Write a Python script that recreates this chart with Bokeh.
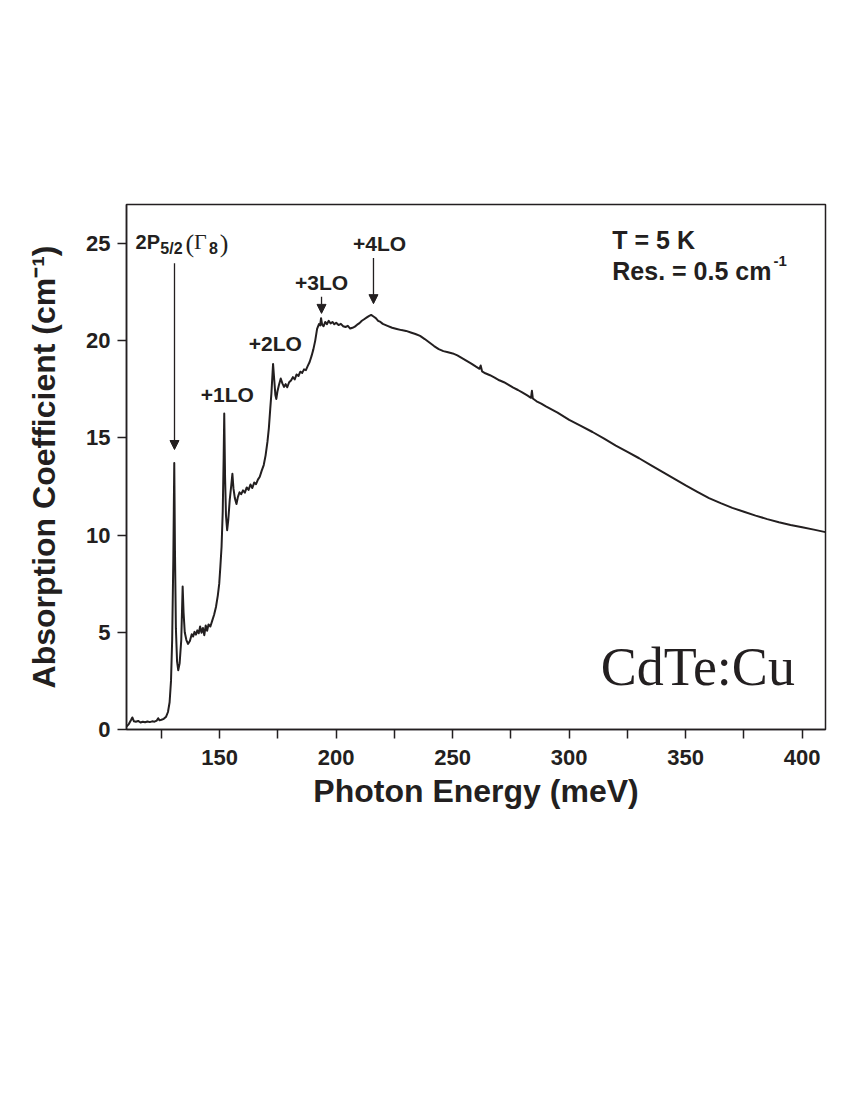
from bokeh.plotting import figure
from bokeh.models import FixedTicker, Arrow, NormalHead, Label, ColumnDataSource
from bokeh.embed import file_html
from bokeh.resources import INLINE

# ---------------- data ----------------
energy_meV = [
    110.0, 111.0, 112.0, 112.5, 113.2, 114.0, 115.0, 116.0, 117.0, 118.0,
    119.0, 120.0, 121.0, 122.0, 123.0, 123.6, 124.2, 125.0, 126.0, 127.0,
    127.8, 128.5, 129.1, 129.6, 130.1, 130.5, 130.8, 131.2, 131.7, 132.2,
    132.8, 133.5, 134.1, 134.5, 135.0, 135.7, 136.4, 137.2, 138.0, 138.6,
    139.2, 139.8, 140.4, 141.0, 141.6, 142.2, 142.8, 143.4, 144.0, 144.6,
    145.2, 146.0, 146.8, 147.6, 148.4, 149.2, 149.8, 150.3, 150.8, 151.3,
    151.7, 151.95, 152.3, 152.7, 153.2, 153.7, 154.3, 155.0, 155.45, 155.9,
    156.5, 157.2, 157.8, 158.5, 159.2, 160.0, 160.8, 161.6, 162.4, 163.2,
    164.0, 164.8, 165.6, 166.4, 167.2, 168.0, 168.9, 169.7, 170.5, 171.1,
    171.7, 172.2, 172.9, 173.4, 173.9, 174.3, 174.8, 175.4, 176.2, 176.9,
    177.6, 178.3, 179.0, 179.8, 180.6, 181.4, 182.2, 183.0, 183.8, 184.6,
    185.4, 186.2, 187.0, 187.8, 188.6, 189.4, 190.2, 191.0, 191.8, 192.6,
    193.1, 193.5, 194.0, 194.6, 195.3, 196.0, 196.8, 197.6, 198.4, 199.2,
    200.0, 201.0, 202.0, 203.0, 204.0, 205.0, 206.0, 207.0, 208.0, 209.0,
    210.0, 211.0, 212.0, 213.0, 214.0, 215.0, 216.0, 217.0, 218.0, 219.0,
    220.0, 222.0, 224.0, 226.0, 228.0, 230.0, 232.0, 234.0, 236.0, 238.0,
    240.0, 242.0, 244.0, 246.0, 248.0, 250.0, 252.0, 254.0, 256.0, 258.0,
    260.0, 261.5, 262.0, 262.6, 264.0, 266.0, 268.0, 270.0, 272.0, 274.0,
    276.0, 278.0, 280.0, 282.0, 283.6, 284.0, 284.4, 286.0, 288.0, 290.0,
    295.0, 300.0, 305.0, 310.0, 315.0, 320.0, 325.0, 330.0, 335.0, 340.0,
    345.0, 350.0, 355.0, 360.0, 365.0, 370.0, 375.0, 380.0, 385.0, 390.0,
    395.0, 400.0, 405.0, 410.0,
]
absorption_cm = [
    0.15, 0.28, 0.50, 0.62, 0.42, 0.40, 0.44, 0.36, 0.40, 0.37,
    0.41, 0.38, 0.42, 0.40, 0.46, 0.58, 0.47, 0.50, 0.55, 0.66,
    0.90, 1.40, 2.50, 4.60, 8.80, 13.70, 9.20, 5.20, 3.50, 3.05,
    3.40, 4.60, 7.35, 6.00, 5.00, 4.60, 4.40, 4.55, 4.90, 4.78,
    5.02, 4.88, 5.10, 4.95, 5.30, 4.98, 5.22, 4.85, 5.35, 5.08,
    5.40, 5.30, 5.60, 5.90, 6.30, 6.90, 7.50, 8.40, 9.40, 11.20,
    14.00, 16.25, 13.00, 11.00, 10.25, 10.80, 11.80, 12.60, 13.15, 12.40,
    11.90, 11.60, 11.95, 12.20, 12.10, 12.30, 12.18, 12.45, 12.32, 12.60,
    12.42, 12.70, 12.62, 12.85, 13.00, 13.30, 13.60, 14.10, 14.80, 15.50,
    16.50, 17.30, 18.80, 18.00, 17.20, 17.00, 17.40, 17.70, 18.05, 17.80,
    17.62, 17.76, 17.60, 17.86, 17.95, 18.12, 18.00, 18.26, 18.18, 18.40,
    18.34, 18.52, 18.48, 18.70, 18.90, 19.20, 19.55, 20.00, 20.60, 20.85,
    20.78, 21.15, 20.80, 20.74, 20.96, 20.84, 21.02, 20.88, 20.96, 20.84,
    20.92, 20.80, 20.86, 20.74, 20.70, 20.76, 20.62, 20.66, 20.72, 20.82,
    20.90, 21.02, 21.10, 21.18, 21.26, 21.32, 21.24, 21.16, 21.02, 20.96,
    20.86, 20.76, 20.66, 20.60, 20.54, 20.50, 20.42, 20.34, 20.24, 20.08,
    19.90, 19.72, 19.56, 19.46, 19.40, 19.34, 19.24, 19.10, 18.96, 18.82,
    18.66, 18.55, 18.72, 18.42, 18.32, 18.22, 18.10, 17.96, 17.86, 17.72,
    17.58, 17.46, 17.32, 17.18, 17.06, 17.42, 17.02, 16.88, 16.76, 16.62,
    16.30, 15.92, 15.62, 15.30, 14.96, 14.60, 14.28, 13.95, 13.60, 13.25,
    12.90, 12.55, 12.22, 11.90, 11.64, 11.40, 11.20, 11.00, 10.82, 10.66,
    10.52, 10.40, 10.28, 10.15,
]

x_major_ticks = [150, 200, 250, 300, 350, 400]
x_minor_ticks = [125, 175, 225, 275, 325, 375]
y_ticks = [0, 5, 10, 15, 20, 25]

# phonon replica labels: text, centre energy, baseline absorption
lo_labels = ["+1LO", "+2LO", "+3LO", "+4LO"]
lo_label_x = [153.3, 173.9, 193.7, 218.6]
lo_label_y = [17.24, 19.86, 23.01, 25.01]

# arrows: energy, start, end
arrow_x = [130.6, 193.7, 216.0]
arrow_y_start = [23.98, 22.25, 24.25]
arrow_y_end = [14.4, 21.4, 21.9]

INK = "#231f20"
SANS = "Liberation Sans"
SERIF = "Liberation Serif"

p = figure(
    frame_width=699, frame_height=525,
    x_range=(110, 410), y_range=(0, 27),
    output_backend="svg", toolbar_location=None,
    min_border_left=126, min_border_top=204,
    min_border_right=8, min_border_bottom=95,
    background_fill_color="white", border_fill_color="white",
)
p.xgrid.visible = False
p.ygrid.visible = False
p.outline_line_color = INK
p.outline_line_width = 1.5

src = ColumnDataSource(dict(e=energy_meV, a=absorption_cm))
p.line("e", "a", source=src, line_color=INK, line_width=2, line_join="round")

# axes
p.xaxis.ticker = FixedTicker(ticks=x_major_ticks, minor_ticks=x_minor_ticks)
p.yaxis.ticker = FixedTicker(ticks=y_ticks, minor_ticks=[])
for ax in (p.xaxis[0], p.yaxis[0]):
    ax.axis_line_color = INK
    ax.axis_line_width = 1.5
    ax.major_tick_line_color = INK
    ax.major_tick_line_width = 1.5
    ax.major_tick_out = 9
    ax.major_tick_in = 0
    ax.minor_tick_line_color = INK
    ax.minor_tick_line_width = 1.5
    ax.minor_tick_out = 9
    ax.minor_tick_in = 0
    ax.major_label_text_font = SANS
    ax.major_label_text_font_style = "bold"
    ax.major_label_text_font_size = "22px"
    ax.major_label_text_color = INK
    ax.axis_label_text_font = SANS
    ax.axis_label_text_font_style = "bold"
    ax.axis_label_text_font_size = "32px"
    ax.axis_label_text_color = INK
p.yaxis.minor_tick_line_color = None
p.xaxis.major_label_standoff = 11
p.yaxis.major_label_standoff = 7
p.xaxis.axis_label = "Photon Energy (meV)"
p.yaxis.axis_label = "Absorption Coefficient (cm\u207b\u00b9)"
p.xaxis.axis_label_standoff = 5
p.yaxis.axis_label_standoff = 21

# arrows
for xa, ys, ye in zip(arrow_x, arrow_y_start, arrow_y_end):
    p.add_layout(Arrow(
        end=NormalHead(size=9, fill_color=INK, line_color=INK, line_width=1),
        x_start=xa, y_start=ys, x_end=xa, y_end=ye,
        line_color=INK, line_width=1.3,
    ))

# LO labels
for t, xl, yl in zip(lo_labels, lo_label_x, lo_label_y):
    p.add_layout(Label(x=xl, y=yl, text=t, text_font=SANS, text_font_style="bold",
                       text_font_size="21px", text_color=INK,
                       text_align="center", text_baseline="alphabetic"))

# 2P5/2(Γ8) label built from pieces
pieces = [
    ("2P", 113.9, 25.06, SANS, "bold", "20px"),
    ("5/2", 124.5, 24.75, SANS, "bold", "16px"),
    ("(", 135.3, 25.0, SERIF, "normal", "26px"),
    ("\u0393", 139.0, 25.08, SERIF, "normal", "22px"),
    ("8", 145.4, 24.75, SANS, "bold", "16px"),
    (")", 150.0, 25.0, SERIF, "normal", "26px"),
]
for t, xl, yl, f, st, sz in pieces:
    p.add_layout(Label(x=xl, y=yl, text=t, text_font=f, text_font_style=st,
                       text_font_size=sz, text_color=INK,
                       text_align="left", text_baseline="alphabetic"))

# conditions
p.add_layout(Label(x=318.5, y=25.16, text="T = 5 K", text_font=SANS, text_font_style="bold",
                   text_font_size="25px", text_color=INK, text_baseline="alphabetic"))
p.add_layout(Label(x=318.5, y=23.56, text="Res. = 0.5 cm", text_font=SANS, text_font_style="bold",
                   text_font_size="25px", text_color=INK, text_baseline="alphabetic"))
p.add_layout(Label(x=387.7, y=24.1, text="-1", text_font=SANS, text_font_style="bold",
                   text_font_size="15px", text_color=INK, text_baseline="alphabetic"))

# sample name
p.add_layout(Label(x=313.5, y=3.23, text="CdTe:Cu", text_font=SERIF, text_font_style="normal",
                   text_font_size="54px", text_color=INK, text_baseline="alphabetic"))

open("out.html", "w").write(file_html(p, INLINE))
